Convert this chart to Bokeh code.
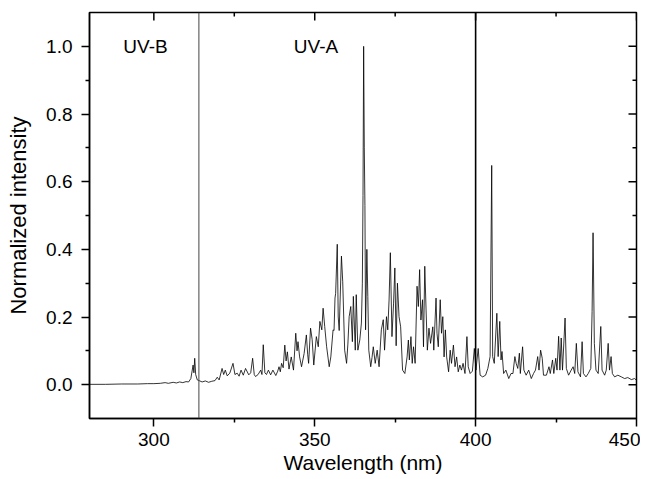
import math
from bokeh.plotting import figure
from bokeh.models import Span, Label, FixedTicker, Range1d, PrintfTickFormatter, ColumnDataSource
from bokeh.embed import file_html
from bokeh.resources import INLINE

# ---- data ----
wavelength = [
    280.0, 285.0, 290.0, 295.0, 298.0, 300.0, 302.0, 303.5, 304.5, 306.0, 307.0, 308.0, 309.0, 310.0, 310.8,
    311.5, 312.2, 312.45, 312.7, 313.0, 313.5, 314.3, 315.0, 316.0, 317.0, 318.0, 319.0, 319.7, 320.3, 321.2,
    321.7, 322.2, 322.8, 323.6, 324.6, 325.2, 325.9, 326.5, 327.1, 327.8, 328.5, 329.5, 330.1, 330.7, 331.2,
    331.6, 332.4, 333.2, 333.6, 334.0, 334.5, 335.0, 335.6, 336.3, 337.0, 337.9, 338.5, 338.9, 339.3, 339.7,
    340.2, 340.7, 341.1, 341.5, 342.0, 342.7, 343.4, 344.1, 344.5, 344.8, 345.3, 345.9, 346.7, 347.4, 347.8,
    348.1, 348.7, 349.2, 349.7, 350.5, 351.1, 351.6, 352.2, 352.6, 353.1, 353.7, 354.5, 355.0, 355.7, 356.0,
    356.3, 356.5, 357.0, 357.3, 357.6, 358.3, 358.7, 359.3, 359.9, 360.3, 360.7, 361.2, 361.7, 362.0, 362.6,
    362.9, 363.4, 364.0, 364.5, 364.8, 365.0, 365.2, 365.4, 365.6, 365.8, 366.2, 366.5, 366.8, 367.4, 367.8,
    368.2, 368.8, 369.4, 370.0, 370.7, 371.3, 371.7, 372.3, 372.7, 373.1, 373.5, 374.0, 374.5, 374.9, 375.3,
    375.7, 376.2, 376.7, 377.3, 378.0, 378.7, 379.1, 379.4, 379.9, 380.3, 380.7, 381.2, 381.8, 382.2, 382.6,
    383.0, 383.5, 383.8, 384.2, 384.6, 385.0, 385.5, 386.0, 386.7, 387.0, 387.7, 388.0, 388.4, 389.0, 389.4,
    389.8, 390.2, 390.6, 391.0, 391.6, 392.1, 392.5, 393.1, 393.6, 394.1, 394.6, 395.1, 395.6, 396.1, 396.7,
    397.3, 397.7, 398.3, 399.0, 399.6, 400.1, 400.8, 401.4, 402.2, 403.1, 403.8, 404.5, 405.0, 405.3, 405.8,
    406.6, 407.0, 407.5, 407.9, 408.2, 408.7, 409.4, 410.3, 411.0, 411.6, 412.2, 412.6, 413.1, 413.6, 413.9,
    414.6, 415.0, 415.7, 416.5, 417.3, 418.0, 418.6, 419.3, 419.7, 420.2, 420.7, 421.1, 422.0, 422.8, 423.2,
    423.9, 424.3, 424.9, 425.3, 425.8, 426.2, 426.6, 427.0, 427.8, 428.2, 428.9, 429.7, 430.3, 430.8, 431.3,
    431.8, 432.6, 433.1, 433.5, 434.3, 435.0, 435.8, 436.2, 436.5, 436.9, 437.4, 438.1, 438.9, 439.3, 440.1,
    440.6, 441.2, 441.6, 442.1, 442.5, 443.2, 444.2, 445.3, 446.3, 447.3, 448.4, 449.4, 450.0,
]
intensity = [
    0.001, 0.001, 0.002, 0.002, 0.003, 0.003, 0.004, 0.006, 0.004, 0.007, 0.005, 0.008, 0.006, 0.009, 0.008,
    0.018, 0.058, 0.035, 0.078, 0.030, 0.014, 0.011, 0.008, 0.011, 0.007, 0.010, 0.012, 0.022, 0.014, 0.048,
    0.030, 0.043, 0.026, 0.034, 0.063, 0.030, 0.034, 0.025, 0.043, 0.028, 0.048, 0.029, 0.035, 0.078, 0.030,
    0.024, 0.030, 0.043, 0.030, 0.118, 0.035, 0.030, 0.043, 0.029, 0.043, 0.027, 0.040, 0.053, 0.038, 0.063,
    0.050, 0.117, 0.070, 0.097, 0.046, 0.082, 0.043, 0.152, 0.100, 0.127, 0.082, 0.053, 0.092, 0.147, 0.090,
    0.063, 0.167, 0.133, 0.058, 0.142, 0.112, 0.187, 0.162, 0.226, 0.172, 0.112, 0.053, 0.082, 0.162, 0.160,
    0.256, 0.270, 0.415, 0.200, 0.160, 0.380, 0.304, 0.102, 0.063, 0.120, 0.201, 0.231, 0.127, 0.261, 0.102,
    0.266, 0.102, 0.132, 0.182, 0.300, 0.559, 1.000, 0.700, 0.529, 0.162, 0.400, 0.261, 0.102, 0.053, 0.080,
    0.112, 0.063, 0.102, 0.053, 0.162, 0.192, 0.102, 0.201, 0.162, 0.250, 0.390, 0.142, 0.241, 0.345, 0.115,
    0.300, 0.201, 0.171, 0.043, 0.033, 0.082, 0.132, 0.073, 0.142, 0.063, 0.112, 0.063, 0.291, 0.231, 0.340,
    0.191, 0.251, 0.112, 0.350, 0.221, 0.102, 0.167, 0.122, 0.171, 0.102, 0.256, 0.152, 0.112, 0.251, 0.152,
    0.201, 0.082, 0.162, 0.082, 0.038, 0.102, 0.063, 0.117, 0.053, 0.082, 0.038, 0.058, 0.043, 0.063, 0.033,
    0.142, 0.053, 0.033, 0.040, 0.107, 0.043, 0.107, 0.028, 0.023, 0.028, 0.048, 0.083, 0.648, 0.083, 0.063,
    0.211, 0.083, 0.187, 0.073, 0.098, 0.033, 0.043, 0.018, 0.033, 0.033, 0.083, 0.063, 0.048, 0.093, 0.033,
    0.112, 0.043, 0.028, 0.043, 0.018, 0.033, 0.043, 0.083, 0.043, 0.102, 0.078, 0.028, 0.028, 0.053, 0.033,
    0.073, 0.033, 0.078, 0.043, 0.143, 0.043, 0.138, 0.043, 0.197, 0.048, 0.028, 0.043, 0.053, 0.033, 0.122,
    0.038, 0.023, 0.127, 0.033, 0.023, 0.033, 0.048, 0.216, 0.449, 0.122, 0.043, 0.033, 0.172, 0.043, 0.028,
    0.043, 0.122, 0.043, 0.083, 0.033, 0.023, 0.028, 0.023, 0.018, 0.021, 0.015, 0.018, 0.013,
]
band_edges = [314, 400]
band_names = ["UV-B", "UV-A"]
x_major = [300, 350, 400, 450]
x_minor = [325, 375, 425]
y_major = [0.0, 0.2, 0.4, 0.6, 0.8, 1.0]
y_minor = [0.1, 0.3, 0.5, 0.7, 0.9]

FONT = "Liberation Sans"
X0, X1, Y0, Y1 = 280, 450, -0.1, 1.1

LEFT, RIGHT, TOP, BOTTOM = 89, 4, 12, 62
FW, FH = 547, 406

p = figure(width=LEFT + FW + RIGHT, height=TOP + FH + BOTTOM,
           x_range=Range1d(X0, X1), y_range=Range1d(Y0, Y1),
           output_backend="svg", toolbar_location=None,
           min_border_left=LEFT, min_border_right=RIGHT, min_border_top=TOP, min_border_bottom=BOTTOM)
p.grid.visible = False
p.outline_line_color = "black"
p.outline_line_width = 1.5
p.background_fill_color = "white"
p.border_fill_color = "white"

src = ColumnDataSource(dict(x=wavelength, y=intensity))
p.line("x", "y", source=src, line_color="black", line_width=0.8)

p.add_layout(Span(location=band_edges[0], dimension="height", line_color="#444444", line_width=1))
p.add_layout(Span(location=band_edges[1], dimension="height", line_color="black", line_width=1.6))

for name, xpos in zip(band_names, [290.5, 343.5]):
    p.add_layout(Label(x=xpos, y=1.0, text=name, text_font=FONT, text_font_size="19px",
                       text_color="black", text_baseline="alphabetic"))

# mirrored inward ticks on the top and right frame edges
p.ray(x=x_major, y=[Y1] * len(x_major), length=8, angle=-math.pi / 2, length_units="screen",
      line_color="black", line_width=1.5)
p.ray(x=x_minor, y=[Y1] * len(x_minor), length=4, angle=-math.pi / 2, length_units="screen",
      line_color="black", line_width=1.5)
p.ray(x=[X1] * len(y_major), y=y_major, length=8, angle=math.pi, length_units="screen",
      line_color="black", line_width=1.5)
p.ray(x=[X1] * len(y_minor), y=y_minor, length=4, angle=math.pi, length_units="screen",
      line_color="black", line_width=1.5)

def style(ax, ticks, minor, fmt=None):
    ax.ticker = FixedTicker(ticks=ticks, minor_ticks=minor)
    ax.axis_line_width = 1.5
    ax.axis_line_color = "black"
    ax.major_tick_line_width = 1.5
    ax.minor_tick_line_width = 1.5
    ax.major_tick_line_color = "black"
    ax.minor_tick_line_color = "black"
    ax.major_tick_in, ax.major_tick_out = 0, 8
    ax.minor_tick_in, ax.minor_tick_out = 0, 4
    ax.major_label_text_font = FONT
    ax.major_label_text_font_size = "19px"
    ax.major_label_text_color = "black"
    ax.axis_label_text_color = "black"
    ax.axis_label_text_font = FONT
    ax.axis_label_text_font_style = "normal"
    if fmt:
        ax.formatter = fmt

xa = p.xaxis[0]
style(xa, x_major, x_minor)
xa.major_label_standoff = 6
xa.axis_label = "Wavelength (nm)"
xa.axis_label_text_font_size = "21px"
xa.axis_label_standoff = 2

ya = p.yaxis[0]
style(ya, y_major, y_minor, fmt=PrintfTickFormatter(format="%.1f"))
ya.major_label_standoff = 9
ya.axis_label = "Normalized intensity"
ya.axis_label_text_font_size = "22px"
ya.axis_label_standoff = 12

open("out.html", "w").write(file_html(p, INLINE))
